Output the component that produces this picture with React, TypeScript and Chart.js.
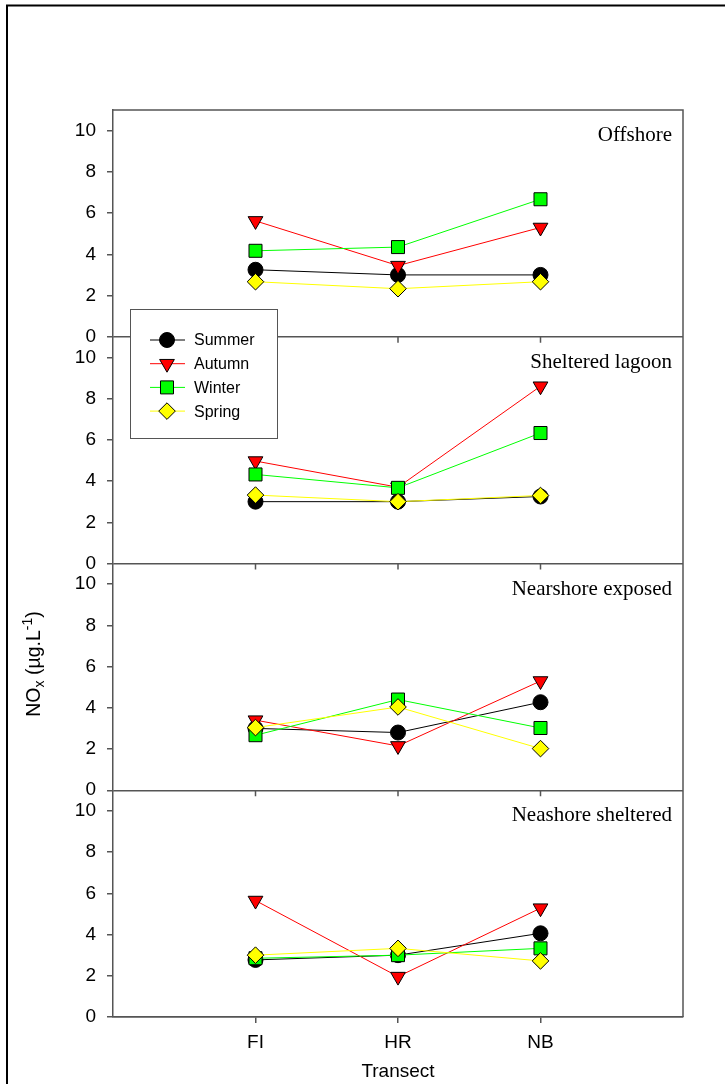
import React, { useEffect, useRef } from 'react';
import { Chart, registerables } from 'chart.js';
import { drawPoint } from 'chart.js/helpers';

Chart.register(...registerables);

const categories = ['FI', 'HR', 'NB'];
const panelNames = ['Offshore', 'Sheltered lagoon', 'Nearshore exposed', 'Neashore sheltered'];
const seasonNames = ['Summer', 'Autumn', 'Winter', 'Spring'];
const yTickValues = [0, 2, 4, 6, 8, 10];

// Offshore
const offshoreSummer = [3.25, 3.0, 3.0];
const offshoreAutumn = [5.62, 3.45, 5.3];
const offshoreWinter = [4.17, 4.35, 6.67];
const offshoreSpring = [2.67, 2.33, 2.67];
// Sheltered lagoon
const lagoonSummer = [3.0, 3.0, 3.25];
const lagoonAutumn = [4.97, 3.7, 8.6];
const lagoonWinter = [4.32, 3.67, 6.33];
const lagoonSpring = [3.32, 3.0, 3.3];
// Nearshore exposed
const exposedSummer = [3.0, 2.8, 4.27];
const exposedAutumn = [3.4, 2.15, 5.3];
const exposedWinter = [2.67, 4.4, 3.02];
const exposedSpring = [3.04, 4.04, 2.02];
// Neashore sheltered
const shelteredSummer = [2.77, 3.0, 4.06];
const shelteredAutumn = [5.65, 1.96, 5.28];
const shelteredWinter = [2.85, 3.0, 3.33];
const shelteredSpring = [3.0, 3.33, 2.72];

const panelSeries = [
  [offshoreSummer, offshoreAutumn, offshoreWinter, offshoreSpring],
  [lagoonSummer, lagoonAutumn, lagoonWinter, lagoonSpring],
  [exposedSummer, exposedAutumn, exposedWinter, exposedSpring],
  [shelteredSummer, shelteredAutumn, shelteredWinter, shelteredSpring],
];

const seasonStyles = [
  { line: '#000000', fill: '#000000', pointStyle: 'circle', radius: 7.5, rotation: 0 },
  { line: '#ff0000', fill: '#ff0000', pointStyle: 'triangle', radius: 8.5, rotation: 180 },
  { line: '#00ff00', fill: '#00ff00', pointStyle: 'rect', radius: 9.2, rotation: 0 },
  { line: '#ffff00', fill: '#ffff00', pointStyle: 'rectRot', radius: 8.3, rotation: 0 },
];

const SANS = '"Liberation Sans", Arial, sans-serif';
const SERIF = '"Liberation Serif", "Times New Roman", serif';
const AXIS_COLOR = '#555555';
const TICK_SIZE = 19;

const decorPlugin = {
  id: 'decor',
  afterDraw(chart: any) {
    const { ctx, chartArea } = chart;
    ctx.save();
    // outer border (top & left visible)
    ctx.strokeStyle = '#000';
    ctx.lineWidth = 2;
    ctx.beginPath();
    ctx.moveTo(7, 1084);
    ctx.lineTo(7, 5.5);
    ctx.lineTo(725, 5.5);
    ctx.stroke();

    // plot frame top & right
    ctx.strokeStyle = AXIS_COLOR;
    ctx.lineWidth = 1.5;
    ctx.beginPath();
    ctx.moveTo(chartArea.left, chartArea.top);
    ctx.lineTo(chartArea.right, chartArea.top);
    ctx.lineTo(chartArea.right, chartArea.bottom);
    ctx.stroke();

    // x tick marks under upper panels
    const xs = chart.scales.x;
    for (let p = 0; p < 3; p++) {
      const ys = chart.scales['p' + p];
      const y0 = ys.getPixelForValue(0);
      ctx.beginPath();
      categories.forEach((_, i) => {
        const px = xs.getPixelForValue(i + 1);
        ctx.moveTo(px, y0);
        ctx.lineTo(px, y0 + 6);
      });
      ctx.stroke();
    }

    // panel labels
    ctx.fillStyle = '#000';
    ctx.font = '21px ' + SERIF;
    ctx.textAlign = 'right';
    ctx.textBaseline = 'alphabetic';
    for (let p = 0; p < 4; p++) {
      const ys = chart.scales['p' + p];
      ctx.fillText(panelNames[p], chartArea.right - 11, ys.top + 31);
    }

    // y axis title NOx (µg.L-1)
    const pieces = [
      { t: 'NO', size: 19.5, dy: 0 },
      { t: 'x', size: 14, dy: 4 },
      { t: ' (\u00b5g.L', size: 19.5, dy: 0 },
      { t: '-1', size: 14, dy: -8 },
      { t: ')', size: 19.5, dy: 0 },
    ];
    let total = 0;
    pieces.forEach((pc) => {
      ctx.font = pc.size + 'px ' + SANS;
      total += ctx.measureText(pc.t).width;
    });
    ctx.save();
    ctx.translate(40, 664);
    ctx.rotate(-Math.PI / 2);
    ctx.textAlign = 'left';
    ctx.textBaseline = 'alphabetic';
    let u = -total / 2;
    pieces.forEach((pc) => {
      ctx.font = pc.size + 'px ' + SANS;
      ctx.fillText(pc.t, u, pc.dy);
      u += ctx.measureText(pc.t).width;
    });
    ctx.restore();

    // legend
    const lx = 130.5, ly = 309.5, lw = 147, lh = 129;
    ctx.fillStyle = '#fff';
    ctx.fillRect(lx, ly, lw, lh);
    ctx.strokeStyle = AXIS_COLOR;
    ctx.lineWidth = 1;
    ctx.strokeRect(lx, ly, lw, lh);
    ctx.font = '16px ' + SANS;
    ctx.textAlign = 'left';
    ctx.textBaseline = 'middle';
    seasonNames.forEach((name, i) => {
      const st = seasonStyles[i];
      const ry = 340 + i * 23.7;
      ctx.strokeStyle = st.line;
      ctx.lineWidth = 1;
      ctx.beginPath();
      ctx.moveTo(150, ry);
      ctx.lineTo(185, ry);
      ctx.stroke();
      ctx.fillStyle = st.fill;
      ctx.strokeStyle = '#000';
      drawPoint(ctx, { pointStyle: st.pointStyle, rotation: st.rotation, radius: st.radius, borderWidth: 1 } as any, 167, ry);
      ctx.fillStyle = '#000';
      ctx.fillText(name, 194, ry + 1);
    });
    ctx.restore();
  },
};

export default function App() {
  const canvasRef = useRef<HTMLCanvasElement | null>(null);

  useEffect(() => {
    if (!canvasRef.current) return;
    const datasets: any[] = [];
    panelSeries.forEach((series, p) => {
      series.forEach((values, s) => {
        const st = seasonStyles[s];
        datasets.push({
          label: panelNames[p] + ' ' + seasonNames[s],
          data: values.map((v, i) => ({ x: i + 1, y: v })),
          xAxisID: 'x',
          yAxisID: 'p' + p,
          borderColor: st.line,
          borderWidth: 1,
          backgroundColor: st.fill,
          pointBackgroundColor: st.fill,
          pointBorderColor: '#000',
          pointBorderWidth: 1,
          pointRadius: st.radius,
          pointStyle: st.pointStyle,
          pointRotation: st.rotation,
          tension: 0,
          fill: false,
          order: 4 - s,
        });
      });
    });

    const yScale = (p: number) => ({
      type: 'linear',
      position: 'left',
      stack: 'panels',
      stackWeight: 1,
      weight: 4 - p,
      min: 0,
      max: 11,
      afterBuildTicks: (s: any) => {
        s.ticks = yTickValues.map((v) => ({ value: v }));
      },
      afterFit: (s: any) => {
        s.width = 60;
      },
      ticks: {
        color: '#000',
        font: { family: SANS, size: TICK_SIZE },
        padding: 11,
        autoSkip: false,
      },
      grid: {
        color: (c: any) => (c.tick && c.tick.value === 0 ? AXIS_COLOR : 'rgba(0,0,0,0)'),
        tickColor: AXIS_COLOR,
        tickLength: 6,
        lineWidth: 1.5,
      },
      border: { display: true, color: AXIS_COLOR, width: 1.5 },
    });

    const chart = new Chart(canvasRef.current, {
      type: 'line',
      data: { datasets },
      plugins: [decorPlugin],
      options: {
        animation: false,
        responsive: false,
        devicePixelRatio: 1,
        layout: { padding: { left: 53, right: 42, top: 110, bottom: 0 } },
        plugins: { legend: { display: false }, tooltip: { enabled: false }, title: { display: false } },
        scales: {
          x: {
            type: 'linear',
            position: 'bottom',
            min: 0,
            max: 4,
            afterBuildTicks: (s: any) => {
              s.ticks = categories.map((_, i) => ({ value: i + 1 }));
            },
            afterFit: (s: any) => {
              s.height = 67;
            },
            ticks: {
              color: '#000',
              font: { family: SANS, size: TICK_SIZE },
              padding: 8,
              autoSkip: false,
              maxRotation: 0,
              callback: (v: any) => categories[Math.round(v) - 1] ?? '',
            },
            grid: { drawOnChartArea: false, color: AXIS_COLOR, tickLength: 6, lineWidth: 1.5 },
            border: { display: true, color: AXIS_COLOR, width: 1.5 },
            title: {
              display: true,
              text: 'Transect',
              color: '#000',
              font: { family: SANS, size: TICK_SIZE },
              padding: { top: 0, bottom: 1 },
            },
          },
          p0: yScale(0),
          p1: yScale(1),
          p2: yScale(2),
          p3: yScale(3),
        } as any,
      },
    } as any);
    return () => chart.destroy();
  }, []);

  return (
    <div style={{ position: 'absolute', left: 0, top: 0, width: 725, height: 1084, background: '#fff' }}>
      <canvas ref={canvasRef} width={725} height={1084} style={{ display: 'block' }} />
    </div>
  );
}
